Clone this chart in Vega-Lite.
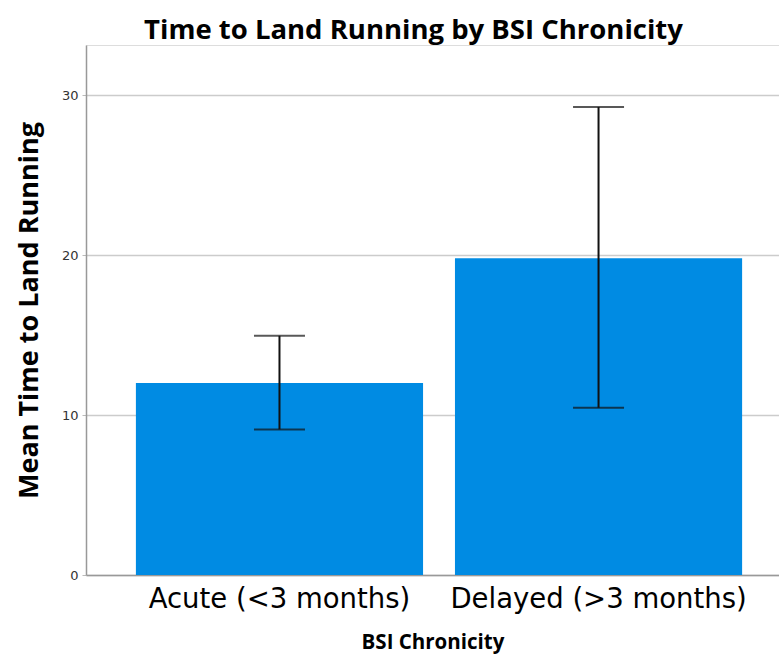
{
  "$schema": "https://vega.github.io/schema/vega-lite/v6.json",
  "autosize": {"type": "none"},
  "padding": {"left": 86, "top": 45, "right": 0, "bottom": 80},
  "width": 693,
  "height": 530,
  "background": "white",
  "title": {
    "text": "Time to Land Running by BSI Chronicity",
    "font": "Open Sans",
    "fontSize": 27.5,
    "fontWeight": "bold",
    "color": "black",
    "anchor": "middle",
    "dx": -19,
    "offset": 1
  },
  "data": {
    "values": [
      {"group": "Acute (<3 months)", "mean": 12.0, "lo": 9.1, "hi": 14.95},
      {"group": "Delayed (>3 months)", "mean": 19.8, "lo": 10.45, "hi": 29.25}
    ]
  },
  "encoding": {
    "x": {
      "field": "group",
      "type": "nominal",
      "sort": null,
      "scale": {"paddingInner": 0.1, "paddingOuter": 0.136, "align": 0.575},
      "axis": {
        "title": "BSI Chronicity",
        "titleFont": "Open Sans",
        "titleFontSize": 20.5,
        "titleFontWeight": "bold",
        "titleColor": "black",
        "titlePadding": 20,
        "labelFont": "DejaVu Sans",
        "labelFontSize": 27.5,
        "labelColor": "black",
        "labelAngle": 0,
        "labelPadding": 10,
        "labelLimit": 0,
        "ticks": false,
        "domainColor": "#999999",
        "domainWidth": 1.5,
        "grid": false
      }
    }
  },
  "layer": [
    {
      "mark": {"type": "bar", "color": "#008BE3"},
      "encoding": {
        "y": {
          "field": "mean",
          "type": "quantitative",
          "scale": {"domain": [0, 33.125], "nice": false},
          "axis": {
            "title": "Mean Time to Land Running",
            "titleFont": "Open Sans",
            "titleFontSize": 27,
            "titleFontWeight": "bold",
            "titleColor": "black",
            "titlePadding": 18,
            "labelFont": "DejaVu Sans",
            "labelFontSize": 13,
            "labelColor": "#333333",
            "labelPadding": 4,
            "values": [0, 10, 20, 30],
            "ticks": true,
            "tickSize": 4,
            "tickColor": "#bbbbbb",
            "grid": true,
            "gridColor": "#cccccc",
            "gridWidth": 1.5,
            "domainColor": "#999999",
            "domainWidth": 1.5
          }
        }
      }
    },
    {
      "mark": {"type": "rule", "color": "#111111", "strokeWidth": 2},
      "encoding": {
        "y": {"field": "lo", "type": "quantitative"},
        "y2": {"field": "hi"}
      }
    },
    {
      "mark": {"type": "tick", "color": "#111111", "thickness": 2, "size": 51},
      "encoding": {
        "y": {"field": "lo", "type": "quantitative"}
      }
    },
    {
      "mark": {"type": "tick", "color": "#111111", "thickness": 2, "size": 51},
      "encoding": {
        "y": {"field": "hi", "type": "quantitative"}
      }
    }
  ]
}
